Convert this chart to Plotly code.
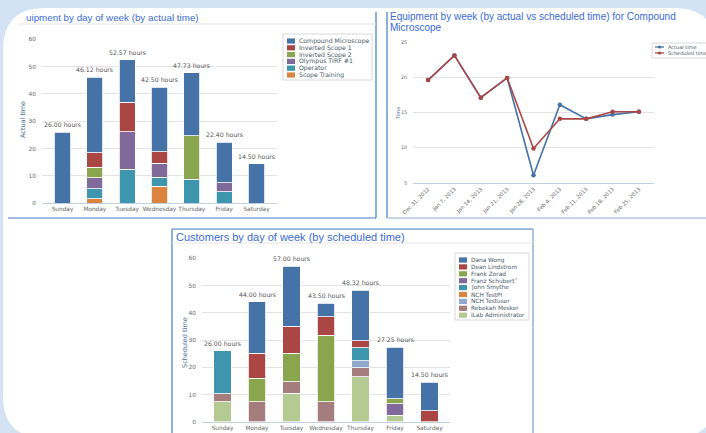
import plotly.graph_objects as go

W, H = 706, 433

# ---------------- data ----------------
days = ["Sunday", "Monday", "Tuesday", "Wednesday", "Thursday", "Friday", "Saturday"]

# Chart 1: Equipment by day of week (actual time)
equip_names = ["Compound Microscope", "Inverted Scope 1", "Inverted Scope 2",
               "Olympus TIRF #1", "Operator", "Scope Training"]
compound = [26.0, 27.62, 15.57, 23.6, 22.93, 14.8, 14.5]
inverted1 = [0, 5.3, 10.9, 4.3, 0, 0, 0]
inverted2 = [0, 3.8, 0, 0, 16.0, 0, 0]
olympus = [0, 4.0, 13.7, 5.0, 0, 3.3, 0]
operator = [0, 3.8, 12.4, 3.4, 8.8, 4.3, 0]
training = [0, 1.6, 0, 6.2, 0, 0, 0]
equip_totals = [26.00, 46.12, 52.57, 42.50, 47.73, 22.40, 14.50]

# Chart 2: Compound Microscope by week
weeks = ["Dec 31, 2012", "Jan 7, 2013", "Jan 14, 2013", "Jan 21, 2013", "Jan 28, 2013",
         "Feb 4, 2013", "Feb 11, 2013", "Feb 18, 2013", "Feb 25, 2013"]
actual_time = [19.6, 23.1, 17.1, 19.9, 6.1, 16.1, 14.1, 14.7, 15.1]
scheduled_time = [19.6, 23.1, 17.1, 19.9, 9.9, 14.1, 14.1, 15.1, 15.1]

# Chart 3: Customers by day of week (scheduled time)
cust_names = ["Dana Wong", "Dean Lindstrom", "Frank Zerad", "Franz Schubert\u02dd",
              "John Smythe", "NCH TestPI", "NCH Testuser", "Rebekah Mesker", "iLab Administrator"]
dana = [0, 18.8, 21.9, 4.9, 18.62, 18.85, 10.5]
dean = [0, 9.3, 10.0, 6.8, 2.5, 0, 4.0]
frank = [0, 8.6, 10.5, 24.5, 0, 1.9, 0]
franz = [0, 0, 0, 0, 0, 4.2, 0]
john = [15.8, 0, 0, 0, 4.9, 0, 0]
nch_pi = [0, 0, 0, 0, 0, 0, 0]
nch_user = [0, 0, 0, 0, 2.5, 0, 0]
rebekah = [2.9, 7.3, 4.2, 7.3, 3.3, 0, 0]
ilab = [7.3, 0, 10.4, 0, 16.5, 2.3, 0]
cust_totals = [26.00, 44.00, 57.00, 43.50, 48.32, 27.25, 14.50]

palette = ["#4572A7", "#AA4643", "#89A54E", "#80699B", "#3D96AE",
           "#DB843D", "#92A8CD", "#A47D7C", "#B5CA92"]

# ---------------- helpers ----------------
def px(x):
    return x / W

def py(y):
    return 1 - y / H

def rr_path(x0, y0, x1, y1, r):
    pts = [("M", [(x0 + r, y0)]), ("L", [(x1 - r, y0)]), ("Q", [(x1, y0), (x1, y0 + r)]),
           ("L", [(x1, y1 - r)]), ("Q", [(x1, y1), (x1 - r, y1)]), ("L", [(x0 + r, y1)]),
           ("Q", [(x0, y1), (x0, y1 - r)]), ("L", [(x0, y0 + r)]), ("Q", [(x0, y0), (x0 + r, y0)])]
    s = ""
    for cmd, ps in pts:
        s += cmd + " " + " ".join(f"{px(a):.5f},{py(b):.5f}" for a, b in ps) + " "
    return s + "Z"

shapes = []
annots = []

def line(x0, y0, x1, y1, color, width=1):
    shapes.append(dict(type="line", xref="paper", yref="paper", x0=px(x0), y0=py(y0),
                       x1=px(x1), y1=py(y1), line=dict(color=color, width=width), layer="below"))

def rect(x0, y0, x1, y1, fill, lc=None, lw=0, layer="above"):
    shapes.append(dict(type="rect", xref="paper", yref="paper", x0=px(x0), y0=py(y0),
                       x1=px(x1), y1=py(y1), fillcolor=fill,
                       line=dict(color=lc or fill, width=lw), layer=layer))

def text(x, y, s, size, color, xanchor="left", font="DejaVu Sans", angle=0):
    annots.append(dict(xref="paper", yref="paper", x=px(x), y=py(y), text=s, showarrow=False,
                       xanchor=xanchor, yanchor="middle", textangle=angle,
                       font=dict(size=size, color=color, family=font)))

TITLE_C = "#3a6bd4"
BORDER_C = "#3f7cc4"
TICK_C = "#666666"
LEG_C = "#4a5866"

# background container
shapes.append(dict(type="path", xref="paper", yref="paper", path=rr_path(3, 8, 716, 438, 42),
                   fillcolor="white", line=dict(width=0), layer="below"))

# panel borders
line(376, 12, 376, 218, BORDER_C, 1.2)
line(8, 218, 376, 218, BORDER_C, 1.2)
line(387, 12, 387, 218, BORDER_C, 1.2)
line(387, 218, 706, 218, "#8fb0d6", 1.2)
line(172, 229, 172, 433, BORDER_C, 1.2)
line(172, 229, 533, 229, BORDER_C, 1.2)
line(533, 229, 533, 433, "#8fb0d6", 1.5)
# title separators
line(18, 24, 376, 24, "#e4e4e4", 1)
line(172, 243, 533, 243, "#e4e4e4", 1)

# titles
text(24, 17, "uipment by day of week (by actual time)", 9.8, TITLE_C, font="Liberation Sans")
text(388, 16, "Equipment by week (by actual vs scheduled time) for Compound", 10.0, TITLE_C, font="Liberation Sans")
text(388, 27, "Microscope", 10.0, TITLE_C, font="Liberation Sans")
text(174, 237, "Customers by day of week (by scheduled time)", 11, TITLE_C, font="Liberation Sans")

# axis titles
text(23, 120, "Actual time", 6.5, "#4d6f99", xanchor="center", angle=-90)
text(398, 113, "Time", 5, "#4d6f99", xanchor="center", angle=-90)
text(185, 343, "Scheduled time", 6.5, "#4d6f99", xanchor="center", angle=-90)

# custom legends
def box_legend(names, colors, x0, y0, x1, y1, row0, step, swx, txx, fs):
    rect(x0, y0, x1, y1, "rgba(255,255,255,0)", "#d8d8d8", 1)
    for i, (n, c) in enumerate(zip(names, colors)):
        yy = row0 + i * step
        rect(swx, yy - 2.6, swx + 8, yy + 2.6, c)
        text(txx, yy, n, fs, LEG_C)

box_legend(equip_names, palette[:6], 283, 34, 372, 80, 41, 6.8, 287, 297, 6.2)
box_legend(cust_names, palette, 455, 253, 529, 320, 260, 6.9, 459, 469, 5.8)

# legend 2 (lines)
rect(652, 43, 720, 58, "rgba(255,255,255,0)", "#d8d8d8", 1)
for i, (n, c) in enumerate(zip(["Actual time", "Scheduled time"], [palette[0], palette[1]])):
    yy = 47 + i * 6
    line(655, yy, 664, yy, c, 1.3)
    shapes.append(dict(type="circle", xref="paper", yref="paper", x0=px(658), y0=py(yy + 1.6),
                       x1=px(661.2), y1=py(yy - 1.6), fillcolor=c, line=dict(width=0)))
    text(666, yy, n, 5, LEG_C)

# ---------------- traces ----------------
fig = go.Figure()

def nz(v):
    return [x if x else None for x in v]

equip_series = [compound, inverted1, inverted2, olympus, operator, training]
for name, vals, col in reversed(list(zip(equip_names, equip_series, palette[:6]))):
    fig.add_trace(go.Bar(x=days, y=nz(vals), name=name, marker=dict(color=col, line=dict(color="white", width=0.8)),
                         xaxis="x", yaxis="y", showlegend=False, hoverinfo="skip"))

for name, vals, col in [("Actual time", actual_time, palette[0]),
                        ("Scheduled time", scheduled_time, palette[1])]:
    fig.add_trace(go.Scatter(x=weeks, y=vals, name=name, mode="lines+markers",
                             line=dict(color=col, width=1.6), marker=dict(size=4.5, color=col),
                             xaxis="x2", yaxis="y2", showlegend=False, hoverinfo="skip"))

cust_series = [dana, dean, frank, franz, john, nch_pi, nch_user, rebekah, ilab]
for name, vals, col in reversed(list(zip(cust_names, cust_series, palette))):
    fig.add_trace(go.Bar(x=days, y=nz(vals), name=name, marker=dict(color=col, line=dict(color="white", width=0.8)),
                         xaxis="x3", yaxis="y3", showlegend=False, hoverinfo="skip"))

# totals
for xa, ya, tots in [("x", "y", equip_totals), ("x3", "y3", cust_totals)]:
    for d, t in zip(days, tots):
        annots.append(dict(xref=xa, yref=ya, x=d, y=t, text=f"{t:.2f} hours", showarrow=False,
                           yanchor="bottom", yshift=2, font=dict(size=6.2, color="#555555", family="DejaVu Sans")))

tickfont = dict(size=5.8, color=TICK_C, family="DejaVu Sans")
xcat = dict(type="category", showgrid=False, showline=True, linecolor="#c0d0e0", linewidth=1,
            ticks="", tickfont=tickfont, fixedrange=True, automargin=False, zeroline=False,
            ticklabelstandoff=0)
ygrid = dict(showgrid=True, gridcolor="#e3e3e3", gridwidth=1, zeroline=False, showline=False,
             tickfont=tickfont, ticks="", ticklabelstandoff=5, fixedrange=True, automargin=False)

fig.update_layout(
    template="none",
    width=W, height=H, margin=dict(l=0, r=0, t=0, b=0, pad=0), autosize=False,
    paper_bgcolor="#d3e3f4", plot_bgcolor="rgba(0,0,0,0)",
    barmode="stack", bargap=0.5,
    showlegend=False,
    xaxis=dict(xcat, domain=[px(42), px(277)], anchor="y", tickangle=0),
    yaxis=dict(ygrid, domain=[py(203.3), py(39.3)], range=[0, 60], dtick=10, anchor="x"),
    xaxis2=dict(xcat, domain=[px(413), px(654)], anchor="y2", tickangle=-45,
                tickfont=dict(size=5.3, color=TICK_C, family="DejaVu Sans")),
    yaxis2=dict(ygrid, domain=[py(183), py(42)], range=[5, 25], dtick=5, anchor="x2",
                tickfont=dict(size=4.8, color=TICK_C, family="DejaVu Sans")),
    xaxis3=dict(xcat, domain=[px(202), px(450)], anchor="y3", tickangle=0),
    yaxis3=dict(ygrid, domain=[py(421.7), py(258.3)], range=[0, 60], dtick=10, anchor="x3"),
    shapes=shapes, annotations=annots,
)

fig.write_html("out.html", config={"displayModeBar": False},
               post_script="document.body.style.margin='0';document.body.style.overflow='hidden';")
